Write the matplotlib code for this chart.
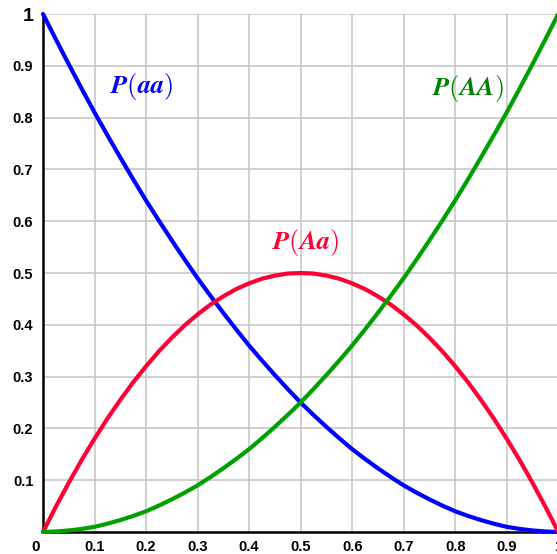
import numpy as np
import matplotlib
matplotlib.use('Agg')
import matplotlib.pyplot as plt

plt.rcParams['font.family'] = ['Liberation Sans', 'DejaVu Sans']
plt.rcParams['mathtext.fontset'] = 'cm'

# allele frequency p, every 0.025
p = [0.0, 0.025, 0.05, 0.075, 0.1, 0.125, 0.15, 0.175, 0.2, 0.225,
     0.25, 0.275, 0.3, 0.325, 0.35, 0.375, 0.4, 0.425, 0.45, 0.475,
     0.5, 0.525, 0.55, 0.575, 0.6, 0.625, 0.65, 0.675, 0.7, 0.725,
     0.75, 0.775, 0.8, 0.825, 0.85, 0.875, 0.9, 0.925, 0.95, 0.975, 1.0]

p_aa = [1.0, 0.951, 0.903, 0.856, 0.81, 0.766, 0.723, 0.681, 0.64, 0.601,
        0.563, 0.526, 0.49, 0.456, 0.423, 0.391, 0.36, 0.331, 0.303, 0.276,
        0.25, 0.226, 0.203, 0.181, 0.16, 0.141, 0.123, 0.106, 0.09, 0.076,
        0.063, 0.051, 0.04, 0.031, 0.023, 0.016, 0.01, 0.006, 0.003, 0.001, 0.0]

p_Aa = [0.0, 0.049, 0.095, 0.139, 0.18, 0.219, 0.255, 0.289, 0.32, 0.349,
        0.375, 0.399, 0.42, 0.439, 0.455, 0.469, 0.48, 0.489, 0.495, 0.499,
        0.5, 0.499, 0.495, 0.489, 0.48, 0.469, 0.455, 0.439, 0.42, 0.399,
        0.375, 0.349, 0.32, 0.289, 0.255, 0.219, 0.18, 0.139, 0.095, 0.049, 0.0]

p_AA = [0.0, 0.001, 0.003, 0.006, 0.01, 0.016, 0.023, 0.031, 0.04, 0.051,
        0.063, 0.076, 0.09, 0.106, 0.123, 0.141, 0.16, 0.181, 0.203, 0.226,
        0.25, 0.276, 0.303, 0.331, 0.36, 0.391, 0.423, 0.456, 0.49, 0.526,
        0.563, 0.601, 0.64, 0.681, 0.723, 0.766, 0.81, 0.856, 0.903, 0.951, 1.0]

ticks = [0.1, 0.2, 0.3, 0.4, 0.5, 0.6, 0.7, 0.8, 0.9, 1.0]
tick_labels = ['0.1', '0.2', '0.3', '0.4', '0.5', '0.6', '0.7', '0.8', '0.9', '1']

fig = plt.figure(figsize=(5.57, 5.54), dpi=100)
ax = fig.add_axes([0.0772, 0.0397, 0.925, 0.935])

ax.plot(p, p_aa, color='#0000ff', lw=3, solid_capstyle='round', clip_on=False, zorder=3)
ax.plot(p, p_Aa, color='#ff0033', lw=3, solid_capstyle='round', clip_on=False, zorder=3)
ax.plot(p, p_AA, color='#00a000', lw=3, solid_capstyle='round', clip_on=False, zorder=3)

ax.text(0.192, 0.861, r'$\boldsymbol{P(aa)}$', color='#0000ff', fontsize=19,
        ha='center', va='center')
ax.text(0.825, 0.857, r'$\boldsymbol{P(AA)}$', color='#008000', fontsize=19,
        ha='center', va='center')
ax.text(0.509, 0.558, r'$\boldsymbol{P(Aa)}$', color='#ff0033', fontsize=19,
        ha='center', va='center')

ax.set_xlim(0, 1)
ax.set_ylim(0, 1)
ax.set_xticks(ticks)
ax.set_xticklabels(tick_labels, fontsize=10.5, fontweight='bold')
ax.set_yticks(ticks)
ax.set_yticklabels(tick_labels, fontsize=10.5, fontweight='bold')
ax.get_yticklabels()[-1].set_fontsize(14)
ax.tick_params(axis='y', length=0, pad=7)
ax.tick_params(axis='x', length=0, pad=6)
ax.text(-0.015, -0.028, '0', transform=ax.transAxes, fontsize=11,
        fontweight='bold', ha='center', va='center')

ax.grid(True, color='#c8c8c8', lw=1.2)
ax.set_axisbelow(True)
for s in ['top', 'right']:
    ax.spines[s].set_visible(False)
for s in ['left', 'bottom']:
    ax.spines[s].set_linewidth(1.8)
    ax.spines[s].set_color('black')
    ax.spines[s].set_zorder(2.5)

fig.savefig('out.png', dpi=100)
